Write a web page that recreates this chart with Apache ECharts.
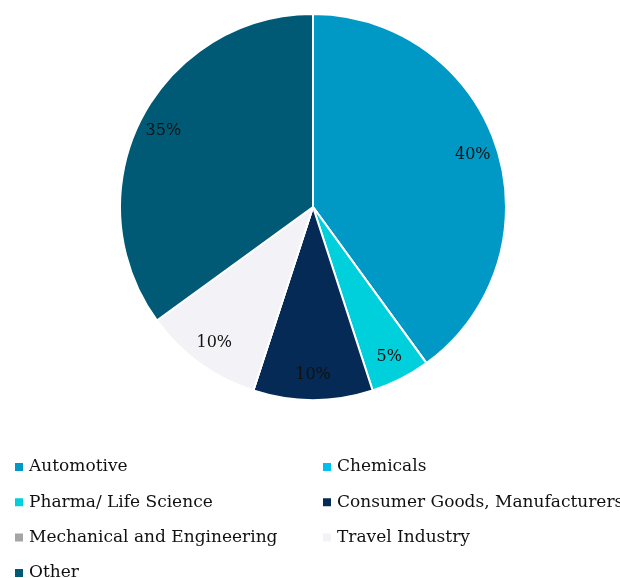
<!DOCTYPE html>
<html><head><meta charset="utf-8">
<script src="https://cdn.jsdelivr.net/npm/echarts@6/dist/echarts.min.js"></script>
<style>html,body{margin:0;padding:0;background:#fff}#c{width:620px;height:578px}</style>
</head><body><div id="c"></div>
<script>
const categories = ['Automotive','Chemicals','Pharma/ Life Science','Consumer Goods, Manufacturers','Mechanical and Engineering','Travel Industry','Other'];
const values = [40, 0, 5, 10, 0, 10, 35];
const colors = ['#0099C5','#00BEF0','#00CFDC','#042A55','#A5A5A5','#F2F2F7','#005A75'];
const legendCol1 = ['Automotive','Pharma/ Life Science','Mechanical and Engineering','Other'];
const legendCol2 = ['Chemicals','Consumer Goods, Manufacturers','Travel Industry'];

const font = 'DejaVu Serif';
const data = categories.map((n,i)=>({name:n, value:values[i], itemStyle:{color:colors[i]}}));
const legendStyle = {orient:'vertical', icon:'rect', itemWidth:10, itemHeight:10, itemGap:15.3,
  padding:0, height:160,
  textStyle:{fontFamily:font, fontSize:17, color:'#111', lineHeight:20}};
const chart = echarts.init(document.getElementById('c'));
chart.setOption({
  animation:false,
  color: colors,
  legend:[
    Object.assign({data:legendCol1, left:13, top:457}, legendStyle),
    Object.assign({data:legendCol2, left:321, top:457}, legendStyle)
  ],
  series:[
    {type:'pie', radius:193, center:[313,207], startAngle:90, clockwise:true,
     data:data, label:{show:false}, labelLine:{show:false},
     itemStyle:{borderColor:'#fff', borderWidth:2}, emphasis:{disabled:true}},
    {type:'pie', radius:[137,193], center:[313,207], startAngle:90, clockwise:true, silent:true,
     data:categories.map((n,i)=>({name:n, value:values[i]})),
     itemStyle:{color:'rgba(0,0,0,0)', borderWidth:0},
     label:{show:true, position:'inner', fontFamily:font, fontSize:16, color:'#111',
       formatter:p=> p.value>0 ? p.value+'%' : ''},
     labelLine:{show:false}, emphasis:{disabled:true}, legendHoverLink:false}
  ]
});
</script></body></html>
